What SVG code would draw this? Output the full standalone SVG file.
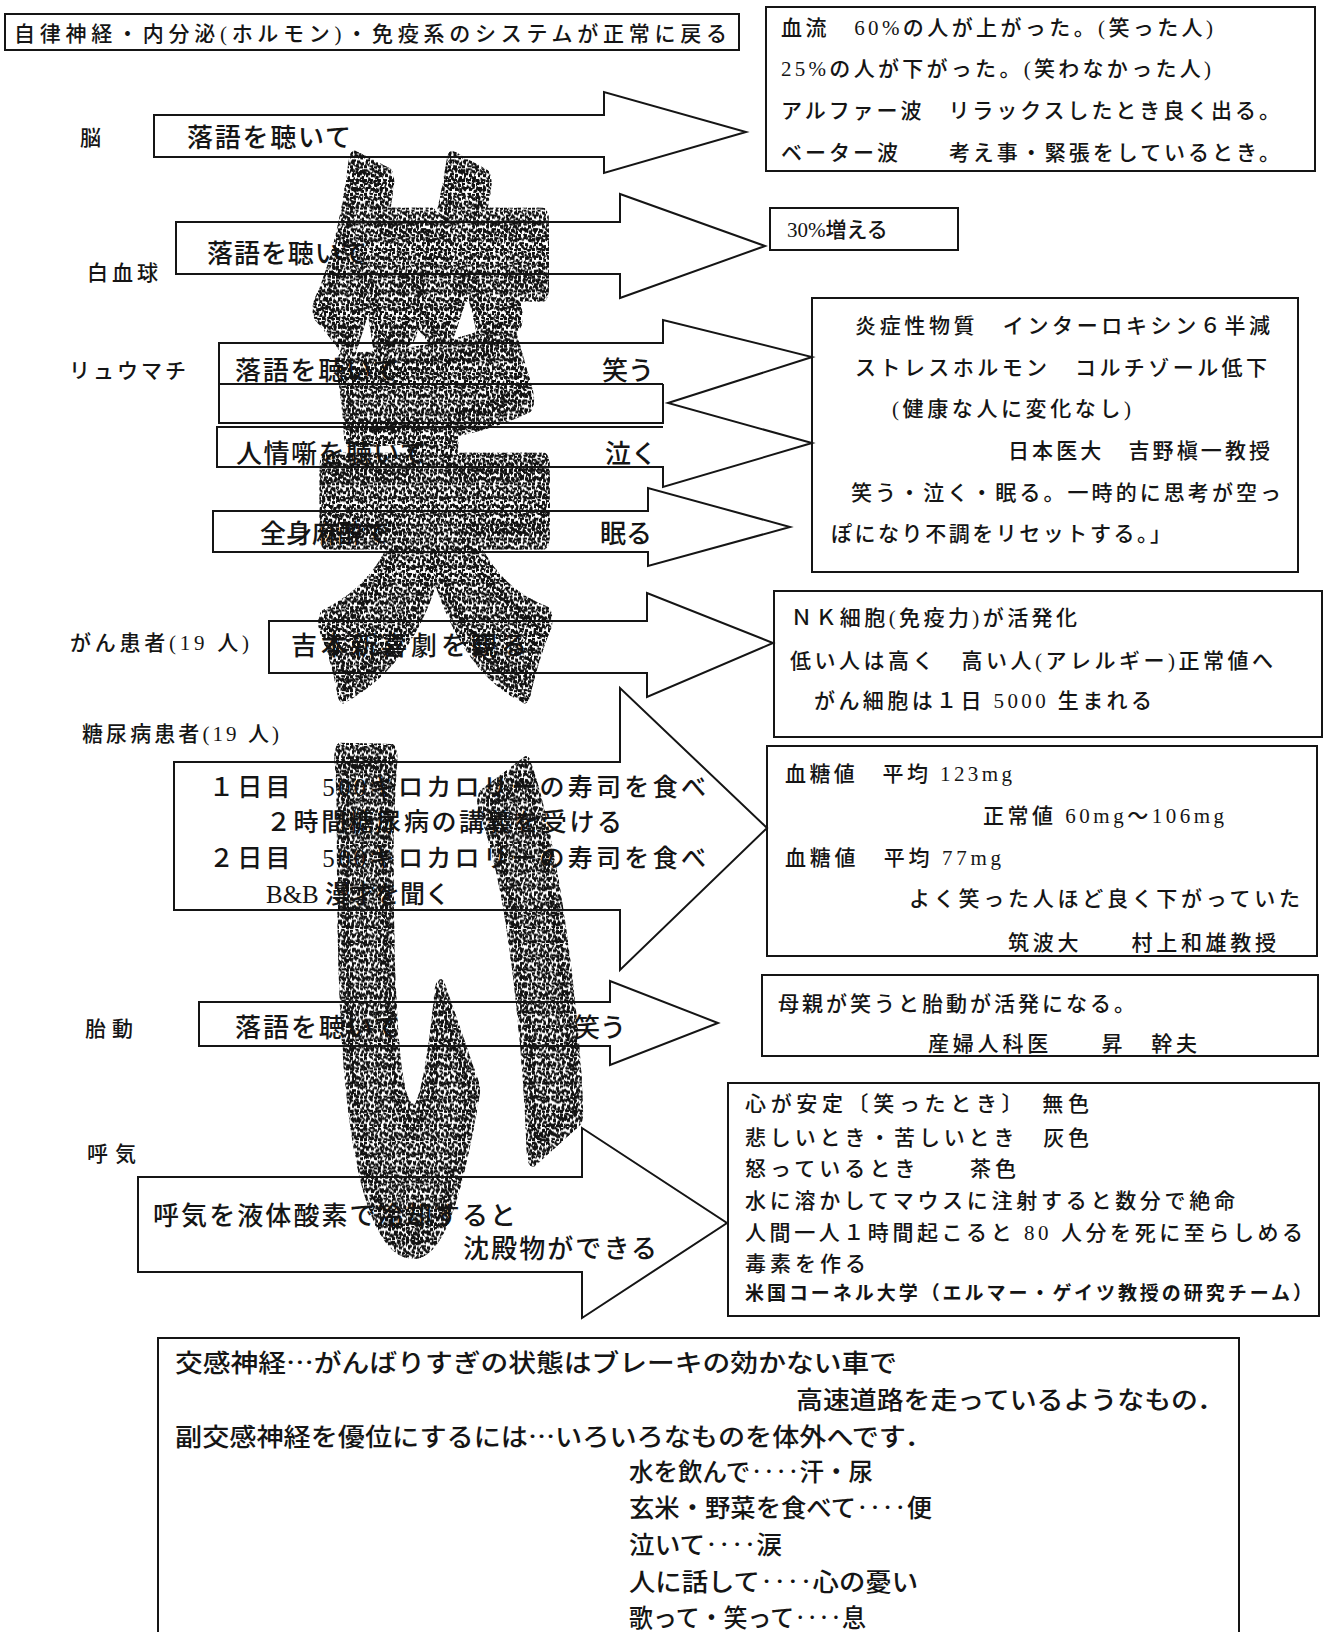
<svg xmlns="http://www.w3.org/2000/svg" width="1324" height="1632" viewBox="0 0 1324 1632">
<style>
.bx{fill:none;stroke:#151515;stroke-width:2}
.ar{fill:none;stroke:#151515;stroke-width:2;stroke-linejoin:miter}
.m{font-family:'Liberation Serif','Noto Sans CJK JP',serif;font-size:21px;font-weight:500;fill:#151515}
.a{font-family:'Liberation Serif','Noto Sans CJK JP',serif;font-size:26px;font-weight:500;fill:#151515}
.d{font-family:'Liberation Serif','Noto Sans CJK JP',serif;font-size:25px;font-weight:500;fill:#151515}
.g{font-family:'Noto Sans CJK JP',sans-serif;font-size:25px;font-weight:500;fill:#151515}
.gb{font-family:'Noto Sans CJK JP',sans-serif;font-size:19px;font-weight:700;fill:#151515}
.big{font-family:'Noto Sans CJK JP',sans-serif;font-weight:900;text-anchor:middle;stroke-width:12;stroke-linejoin:round}
</style>
<defs>
<pattern id="stA" width="14" height="14" patternUnits="userSpaceOnUse" patternTransform="scale(1,0.43)">
<path fill="#111" d="M0,1h3v2h-2v1h-1z M5,0h3l1,2h-3z M10,2h3v3h-2l-1,-1z M2,5h4v2h-2v2h-2z M7,6h3v3h-3z M12,8h2v3h-3z M0,11h3v3h-3z M5,11h4v2h-3z M10,12h3v2h-3z"/>
</pattern>
<pattern id="stB" width="19" height="19" patternUnits="userSpaceOnUse" patternTransform="rotate(23) scale(1,0.43)">
<path fill="#111" d="M1,0h4v3h-4z M8,2h3l2,2h-4z M15,1h3v4h-3z M3,7h3v3h-3z M11,8h4v2h-4z M0,13h4v2h-4z M7,12h3v4h-3z M14,14h4v3h-4z M4,17h3v2h-3z"/>
</pattern>
<pattern id="stC" width="11" height="11" patternUnits="userSpaceOnUse" patternTransform="rotate(-37) scale(1,0.43)">
<path fill="#111" d="M0,0h2v2h-2z M5,2h3v2h-3z M2,6h2v3h-2z M8,7h2v2h-2z"/>
</pattern>
</defs>
<rect width="1324" height="1632" fill="#fff"/>

<g id="title">
<rect class="bx" x="5" y="14" width="734" height="36"/>
<text class="m" x="14" y="41" font-size="23" textLength="713">自律神経・内分泌(ホルモン)・免疫系のシステムが正常に戻る</text>
</g>

<g id="labels">
<text class="m" x="80" y="145">脳</text>
<text class="m" x="87" y="280" textLength="71">白血球</text>
<text class="m" x="69" y="378" textLength="117">リュウマチ</text>
<text class="m" x="70" y="650" textLength="179">がん患者(19 人)</text>
<text class="m" x="82" y="741" textLength="197">糖尿病患者(19 人)</text>
<text class="m" x="85" y="1036" textLength="48">胎動</text>
<text class="m" x="87" y="1161" textLength="49">呼気</text>
</g>

<g id="connectors">
<g id="arrow-brain">
<polygon class="ar" points="154,115 604,115 604,92 746,132 604,173 604,157 154,157"/>
<text class="a" x="187" y="147" textLength="164">落語を聴いて</text>
</g>
<g id="arrow-wbc">
<polygon class="ar" points="176,222 620,222 620,194 765,246 620,298 620,274 176,274"/>
<text class="a" x="207" y="263" textLength="160">落語を聴いて</text>
</g>
<g id="arrow-rheum">
<polyline class="ar" points="219,384 219,343 663,343 663,320 812,357 668,403 812,443 663,487 663,467 217,467 217,427 663,427"/>
<polyline class="ar" points="219,384 219,423 663,423 663,384"/>
<line class="ar" x1="219" y1="384" x2="663" y2="384"/>
<text class="a" x="235" y="380" textLength="164">落語を聴いて</text>
<text class="a" x="602" y="380">笑う</text>
<text class="a" x="236" y="463" textLength="190">人情噺を聴いて</text>
<text class="a" x="605" y="463">泣く</text>
<polygon class="ar" points="213,511 648,511 648,488 790,527 648,566 648,552 213,552"/>
<text class="a" x="260" y="543">全身麻酔で</text>
<text class="a" x="600" y="543">眠る</text>
</g>
<g id="arrow-cancer">
<polygon class="ar" points="269,621 647,621 647,593 773,643 647,697 647,673 269,673"/>
<text class="a" x="291" y="655" textLength="236">吉本新喜劇を観る</text>
</g>
<g id="arrow-diabetes">
<polygon class="ar" points="174,762 620,762 620,688 767,828 620,970 620,910 174,910"/>
<text class="d" x="209" y="796" textLength="497">１日目　500キロカロリーの寿司を食べ</text>
<text class="d" x="266" y="831" textLength="356">２時間糖尿病の講義を受ける</text>
<text class="d" x="209" y="867" textLength="497">２日目　500キロカロリーの寿司を食べ</text>
<text class="d" x="266" y="903">B&amp;B 漫才を聞く</text>
</g>
<g id="arrow-fetal">
<polygon class="ar" points="199,1002 610,1002 610,981 718,1023 610,1065 610,1046 199,1046"/>
<text class="a" x="235" y="1037" textLength="165">落語を聴いて</text>
<text class="a" x="574" y="1037">笑う</text>
</g>
<g id="arrow-breath">
<polygon class="ar" points="138,1177 582,1177 582,1128 727,1223 582,1318 582,1272 138,1272"/>
<text class="a" x="153" y="1225" textLength="363">呼気を液体酸素で冷却すると</text>
<text class="a" x="463" y="1258" textLength="194">沈殿物ができる</text>
</g>
</g>

<g id="box-brain">
<rect class="bx" x="766" y="7" width="549" height="164"/>
<text class="m" x="781" y="35" textLength="432">血流　60%の人が上がった。(笑った人)</text>
<text class="m" x="781" y="76" textLength="430">25%の人が下がった。(笑わなかった人)</text>
<text class="m" x="781" y="118" textLength="499">アルファー波　リラックスしたとき良く出る。</text>
<text class="m" x="781" y="160" textLength="499">ベーター波　　考え事・緊張をしているとき。</text>
</g>

<g id="box-wbc">
<rect class="bx" x="770" y="208" width="188" height="42"/>
<text class="m" x="787" y="237">30%増える</text>
</g>

<g id="box-rheum">
<rect class="bx" x="812" y="298" width="486" height="274"/>
<text class="m" x="855" y="333" textLength="415">炎症性物質　インターロキシン６半減</text>
<text class="m" x="855" y="375" textLength="412">ストレスホルモン　コルチゾール低下</text>
<text class="m" x="892" y="416" textLength="239">(健康な人に変化なし)</text>
<text class="m" x="1008" y="458" textLength="262">日本医大　吉野槇一教授</text>
<text class="m" x="851" y="500" textLength="430">笑う・泣く・眠る。一時的に思考が空っ</text>
<text class="m" x="831" y="541" textLength="340">ぽになり不調をリセットする。」</text>
</g>

<g id="box-cancer">
<rect class="bx" x="774" y="591" width="548" height="146"/>
<text class="m" x="791" y="625" textLength="286">ＮＫ細胞(免疫力)が活発化</text>
<text class="m" x="790" y="668" textLength="483">低い人は高く　高い人(アレルギー)正常値へ</text>
<text class="m" x="814" y="708" textLength="338">がん細胞は１日 5000 生まれる</text>
</g>

<g id="box-diabetes">
<rect class="bx" x="767" y="746" width="550" height="210"/>
<text class="m" x="785" y="781" textLength="227">血糖値　平均 123mg</text>
<text class="m" x="983" y="823" textLength="241">正常値 60mg～106mg</text>
<text class="m" x="785" y="865" textLength="216">血糖値　平均 77mg</text>
<text class="m" x="909" y="906" textLength="391">よく笑った人ほど良く下がっていた</text>
<text class="m" x="1008" y="950" textLength="268">筑波大　　村上和雄教授</text>
</g>

<g id="box-fetal">
<rect class="bx" x="762" y="975" width="556" height="81"/>
<text class="m" x="778" y="1011" textLength="357">母親が笑うと胎動が活発になる。</text>
<text class="m" x="928" y="1051" textLength="269">産婦人科医　　昇　幹夫</text>
</g>

<g id="box-breath">
<rect class="bx" x="728" y="1083" width="591" height="233"/>
<text class="m" x="745" y="1111" textLength="344">心が安定〔笑ったとき〕　無色</text>
<text class="m" x="745" y="1145" textLength="344">悲しいとき・苦しいとき　灰色</text>
<text class="m" x="745" y="1176" textLength="271">怒っているとき　　茶色</text>
<text class="m" x="745" y="1208" textLength="490">水に溶かしてマウスに注射すると数分で絶命</text>
<text class="m" x="745" y="1240" textLength="558">人間一人１時間起こると 80 人分を死に至らしめる</text>
<text class="m" x="745" y="1271" textLength="121">毒素を作る</text>
<text class="gb" x="745" y="1300" font-size="20" textLength="567">米国コーネル大学（エルマー・ゲイツ教授の研究チーム）</text>
</g>

<g id="box-nerve">
<rect class="bx" x="158" y="1338" width="1081" height="310"/>
<text class="g" x="175" y="1372" textLength="722" lengthAdjust="spacingAndGlyphs">交感神経…がんばりすぎの状態はブレーキの効かない車で</text>
<text class="g" x="796" y="1409" textLength="428" lengthAdjust="spacingAndGlyphs">高速道路を走っているようなもの．</text>
<text class="g" x="175" y="1446" textLength="757" lengthAdjust="spacingAndGlyphs">副交感神経を優位にするには…いろいろなものを体外へです．</text>
<text class="g" x="629" y="1481" textLength="244" lengthAdjust="spacingAndGlyphs">水を飲んで‥‥汗・尿</text>
<text class="g" x="629" y="1517" textLength="303" lengthAdjust="spacingAndGlyphs">玄米・野菜を食べて‥‥便</text>
<text class="g" x="629" y="1554" textLength="153" lengthAdjust="spacingAndGlyphs">泣いて‥‥涙</text>
<text class="g" x="629" y="1591" textLength="289" lengthAdjust="spacingAndGlyphs">人に話して‥‥心の憂い</text>
<text class="g" x="629" y="1627" textLength="237" lengthAdjust="spacingAndGlyphs">歌って・笑って‥‥息</text>
</g>

<g id="stipple-laugh">
<text class="big" x="434" y="0" font-size="240" transform="translate(0,637) scale(1,2.29)" fill="url(#stA)" stroke="url(#stA)">笑</text>
<text class="big" x="434" y="0" font-size="240" transform="translate(0,637) scale(1,2.29)" fill="url(#stB)" stroke="url(#stB)">笑</text>
<text class="big" x="434" y="0" font-size="240" transform="translate(0,637) scale(1,2.29)" fill="url(#stC)" stroke="url(#stC)">笑</text>
<text class="big" x="452" y="0" font-size="275" transform="translate(0,1226) scale(1,2.35)" fill="url(#stA)" stroke="url(#stA)">い</text>
<text class="big" x="452" y="0" font-size="275" transform="translate(0,1226) scale(1,2.35)" fill="url(#stB)" stroke="url(#stB)">い</text>
<text class="big" x="452" y="0" font-size="275" transform="translate(0,1226) scale(1,2.35)" fill="url(#stC)" stroke="url(#stC)">い</text>
</g>
</svg>
